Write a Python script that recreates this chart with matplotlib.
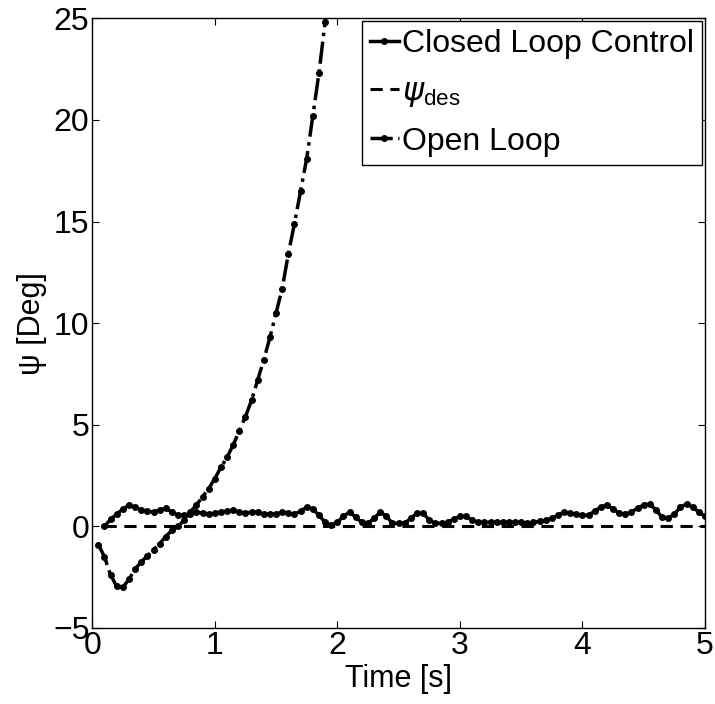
import matplotlib
matplotlib.use("Agg")
import matplotlib.pyplot as plt
import numpy as np

plt.rcParams['font.family'] = ['Liberation Sans', 'DejaVu Sans']
plt.rcParams['mathtext.fontset'] = 'custom'
plt.rcParams['mathtext.rm'] = 'Liberation Sans'
plt.rcParams['mathtext.it'] = 'DejaVu Sans:italic'

# closed loop response, sampled every 0.05 s from 0.1 s
t_closed = np.round(np.arange(0.10, 5.0001, 0.05), 2)
psi_closed = [
    0.0, 0.35, 0.6, 0.85, 1.05, 0.95, 0.8, 0.75, 0.7, 0.8,
    0.9, 0.7, 0.55, 0.55, 0.6, 0.7, 0.65, 0.6, 0.65, 0.7,
    0.75, 0.8, 0.7, 0.65, 0.7, 0.7, 0.6, 0.6, 0.6, 0.7,
    0.65, 0.6, 0.75, 0.95, 0.85, 0.55, 0.2, 0.05, 0.2, 0.5,
    0.7, 0.45, 0.2, 0.15, 0.4, 0.7, 0.5, 0.15, 0.15, 0.15,
    0.4, 0.65, 0.65, 0.3, 0.15, 0.15, 0.2, 0.35, 0.5, 0.5,
    0.3, 0.2, 0.2, 0.2, 0.2, 0.2, 0.2, 0.2, 0.2, 0.15,
    0.2, 0.25, 0.3, 0.4, 0.55, 0.7, 0.65, 0.6, 0.55, 0.55,
    0.75, 0.95, 1.05, 0.85, 0.65, 0.6, 0.7, 0.9, 1.05, 1.1,
    0.8, 0.45, 0.4, 0.6, 0.95, 1.1, 0.95, 0.7, 0.5,
]

# desired heading
t_des = [0.1, 5.0]
psi_des = [0.0, 0.0]

# open loop response
t_open = np.round(np.arange(0.05, 1.9501, 0.05), 2)
psi_open = [
    -0.9, -1.5, -2.4, -2.95, -3.0, -2.6, -2.1, -1.75, -1.45, -1.15,
    -0.85, -0.5, -0.2, 0.0, 0.3, 0.7, 1.05, 1.45, 1.85, 2.35,
    2.9, 3.4, 4.0, 4.7, 5.4, 6.2, 7.2, 8.2, 9.3, 10.5,
    11.7, 13.4, 14.9, 16.5, 18.1, 20.2, 22.3, 24.8, 27.5,
]

fig = plt.figure(figsize=(7.15, 7.04), dpi=100)
ax = fig.add_axes([0.129, 0.108, 0.857, 0.866])

ax.plot(t_closed, psi_closed, '-', color='black', lw=2.5, marker='.', ms=8,
        label='Closed Loop Control')
ax.plot(t_des, psi_des, '--', color='black', lw=2.2, dashes=(4, 2.5),
        label=r'$\psi_{\mathrm{des}}$')
ax.plot(t_open, psi_open, '-.', color='black', lw=2.5, marker='.', ms=8,
        label='Open Loop')

ax.set_xlim(0, 5)
ax.set_ylim(-5, 25)
ax.set_xticks([0, 1, 2, 3, 4, 5])
ax.set_yticks([-5, 0, 5, 10, 15, 20, 25])
ax.tick_params(direction='in', top=True, right=True, labelsize=23, length=5, pad=2)
for s in ax.spines.values():
    s.set_linewidth(1.0)

ax.set_xlabel('Time [s]', fontsize=22, labelpad=2)
ax.set_ylabel('ψ [Deg]', fontsize=22, labelpad=4)

leg = ax.legend(loc='upper right', fontsize=23, handlelength=0.9,
                handletextpad=0.1, labelspacing=0.55, borderaxespad=0.1,
                borderpad=0.25, fancybox=False, framealpha=1, edgecolor='black')
leg.get_frame().set_linewidth(1.0)

fig.savefig('out.png', dpi=100)
